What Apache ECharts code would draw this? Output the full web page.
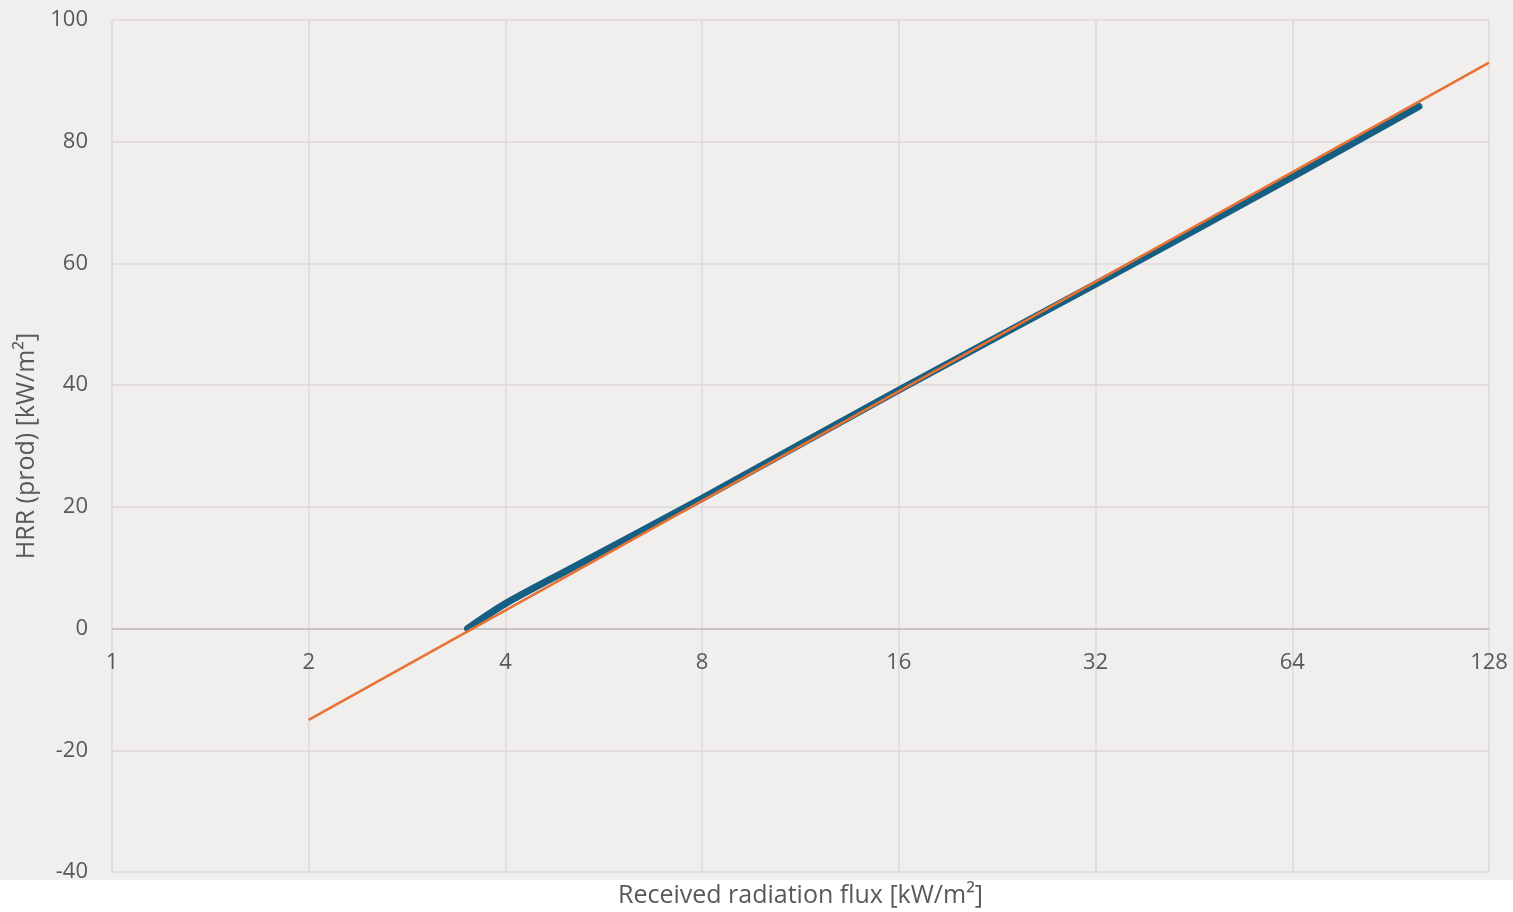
<!DOCTYPE html>
<html>
<head>
<meta charset="utf-8">
<title>HRR vs received radiation flux</title>
<script src="https://cdn.jsdelivr.net/npm/echarts@6/dist/echarts.min.js"></script>
<style>
  html, body { margin: 0; padding: 0; background: #ffffff; }
  #chart { width: 1513px; height: 912px; }
</style>
</head>
<body>
<div id="chart"></div>
<script>
// Measured HRR curve: received flux [kW/m²] and produced HRR [kW/m²]
const measuredFlux = [3.5, 4, 5, 8, 16, 32, 64, 100];
const measuredHrr  = [0, 4.1, 9.7, 21.4, 39.2, 56.6, 74.2, 85.8];

// Logarithmic trend line end points
const trendFlux = [2, 128];
const trendHrr  = [-15, 93];

// Axis ranges
const xMin = 1, xMax = 128;
const yMin = -40, yMax = 100, yStep = 20;

const labelColor = '#595959';
const fontFamily = '"Open Sans", "Noto Sans", sans-serif';

// Plot box
const chartW = 1513, chartH = 912;
const gridLeft = 112, gridRight = 24, gridTop = 20, gridBottom = 40;
const plotH = chartH - gridTop - gridBottom;
const plotCenterX = gridLeft + (chartW - gridLeft - gridRight) / 2;
// The x axis sits on the y = 0 line, so shift it up from the bottom edge
const xAxisOffset = -((0 - yMin) / (yMax - yMin)) * plotH;

const chart = echarts.init(document.getElementById('chart'), null, { renderer: 'canvas' });

chart.setOption({
  backgroundColor: '#ffffff',
  animation: false,
  graphic: [
    {
      type: 'rect',
      z: -10,
      silent: true,
      shape: { x: 0, y: 0, width: chartW, height: 880 },
      style: { fill: '#f1eeee' }
    },
    {
      type: 'text',
      x: plotCenterX,
      y: 883,
      style: {
        text: 'Received radiation flux [kW/m²]',
        fill: labelColor,
        font: '25px ' + fontFamily,
        align: 'center',
        verticalAlign: 'top'
      }
    }
  ],
  grid: { left: gridLeft, right: gridRight, top: gridTop, bottom: gridBottom },
  xAxis: {
    type: 'log',
    logBase: 2,
    min: xMin,
    max: xMax,
    splitNumber: 7,
    position: 'bottom',
    offset: xAxisOffset,
    axisLine: { onZero: false, lineStyle: { color: '#c8c4c4', width: 2 } },
    axisTick: { show: false },
    axisLabel: { color: labelColor, fontSize: 22, fontFamily: fontFamily, margin: 23 },
    splitLine: { show: true, lineStyle: { color: '#dcd8d8', width: 1.5 } }
  },
  yAxis: {
    type: 'value',
    min: yMin,
    max: yMax,
    interval: yStep,
    name: 'HRR (prod) [kW/m²]',
    nameLocation: 'middle',
    nameGap: 72,
    nameTextStyle: { color: labelColor, fontSize: 25, fontFamily: fontFamily },
    axisLine: { show: false },
    axisTick: { show: false },
    axisLabel: { color: labelColor, fontSize: 22, fontFamily: fontFamily, margin: 24 },
    splitLine: { show: true, lineStyle: { color: '#dcd8d8', width: 1.5 } }
  },
  series: [
    {
      name: 'HRR',
      type: 'line',
      data: measuredFlux.map((f, i) => [f, measuredHrr[i]]),
      smooth: 0.3,
      symbol: 'none',
      lineStyle: { color: '#156082', width: 7, cap: 'round' },
      z: 2
    },
    {
      name: 'Trend',
      type: 'line',
      data: trendFlux.map((f, i) => [f, trendHrr[i]]),
      symbol: 'none',
      lineStyle: { color: '#e97132', width: 2.5 },
      z: 3
    }
  ]
});
</script>
</body>
</html>
